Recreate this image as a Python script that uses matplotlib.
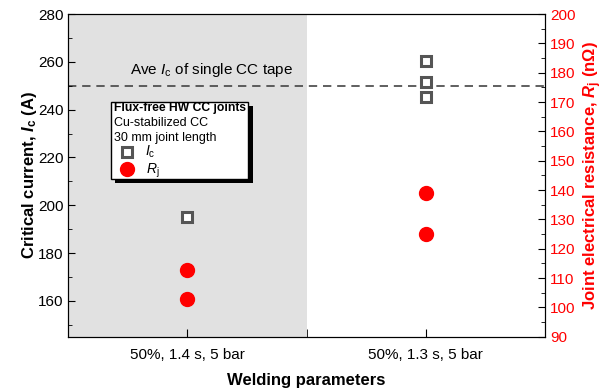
import matplotlib.pyplot as plt
from matplotlib.lines import Line2D
from matplotlib.patches import Rectangle
from matplotlib.ticker import MultipleLocator

plt.rcParams["font.family"] = ["Liberation Sans", "DejaVu Sans"]
plt.rcParams["mathtext.fontset"] = "custom"
plt.rcParams["mathtext.rm"] = "Liberation Sans"
plt.rcParams["mathtext.it"] = "Liberation Sans:italic"
plt.rcParams["mathtext.bf"] = "Liberation Sans:bold"
plt.rcParams["mathtext.bfit"] = "Liberation Sans:bold:italic"

categories = ["50%, 1.4 s, 5 bar", "50%, 1.3 s, 5 bar"]
ic_x = [0, 1, 1, 1]
ic_values = [195.0, 260.5, 251.4, 245.4]
rj_x = [0, 0, 1, 1]
rj_values = [112.8, 103.0, 138.9, 125.0]
ave_ic_tape = 250

GRAY = "#555555"
RED = "#ff0000"

fig = plt.figure(figsize=(6.11, 3.92), dpi=100)
ax = fig.add_axes([68.3 / 611, 1 - 336.7 / 392, 476.7 / 611, 322.7 / 392])
ax2 = ax.twinx()

ax.axvspan(-0.5, 0.5, color="#e1e1e1", lw=0, zorder=0)
ax.axhline(ave_ic_tape, color="#444444", lw=1.2, ls=(0, (5, 3.5)), zorder=1)
ax.text(0.1, ave_ic_tape + 6.5, "Ave $I_\\mathrm{c}$ of single CC tape",
        ha="center", va="center", fontsize=11)

ax.plot(ic_x, ic_values, "s", ms=7, mew=2.2, mec=GRAY, mfc="white", zorder=3)
ax2.plot(rj_x, rj_values, "o", ms=10, color=RED, zorder=3)

ax.set_xlim(-0.5, 1.5)
ax.set_ylim(145, 280)
ax2.set_ylim(90, 200)

ax.set_xticks([0, 1])
ax.set_xticklabels(categories, fontsize=11)
ax.xaxis.set_minor_locator(MultipleLocator(0.5))
ax.yaxis.set_major_locator(MultipleLocator(20))
ax.yaxis.set_minor_locator(MultipleLocator(10))
ax2.yaxis.set_major_locator(MultipleLocator(10))
ax2.yaxis.set_minor_locator(MultipleLocator(5))

ax.tick_params(axis="both", which="both", direction="in", labelsize=11)
ax.tick_params(axis="x", which="minor", length=6)
ax.tick_params(axis="x", which="major", length=6, pad=8)
ax.tick_params(axis="y", which="major", length=5)
ax.tick_params(axis="y", which="minor", length=3)
ax2.tick_params(axis="y", which="both", direction="in", labelsize=11,
                labelcolor=RED)
ax2.tick_params(axis="y", which="major", length=5)
ax2.tick_params(axis="y", which="minor", length=3)

ax.set_xlabel("Welding parameters", fontsize=12, fontweight="bold", labelpad=8)
ax.set_ylabel("Critical current, $\\mathbfit{I}_\\mathbf{c}$ (A)",
              fontsize=12, fontweight="bold", labelpad=-1)
ax2.set_ylabel("Joint electrical resistance, $\\mathbfit{R}_\\mathbf{j}$ (n\u03a9)",
               fontsize=12, fontweight="bold", color=RED, labelpad=4)

# legend box with shadow
bx, by, bw, bh = 0.089, 0.489, 0.288, 0.239
sdx, sdy = 4.5 / 476.7, 4.5 / 322.7
ax2.add_patch(Rectangle((bx + sdx, by - sdy), bw, bh, transform=ax2.transAxes,
                        facecolor="black", edgecolor="black", lw=0, zorder=5))
ax2.add_patch(Rectangle((bx, by), bw, bh, transform=ax2.transAxes,
                        facecolor="white", edgecolor="black", lw=1, zorder=6))
tx = 0.095
ax2.text(tx, 0.709, "Flux-free HW CC joints", transform=ax2.transAxes,
         fontsize=8.7, fontweight="bold", va="center", zorder=7)
ax2.text(tx, 0.662, "Cu-stabilized CC", transform=ax2.transAxes,
         fontsize=9, va="center", zorder=7)
ax2.text(tx, 0.616, "30 mm joint length", transform=ax2.transAxes,
         fontsize=9, va="center", zorder=7)
ax2.add_line(Line2D([0.123], [0.572], transform=ax2.transAxes, marker="s",
                    ms=7, mew=2.2, mec=GRAY, mfc="white", ls="none", zorder=7))
ax2.add_line(Line2D([0.123], [0.52], transform=ax2.transAxes, marker="o",
                    ms=10, color=RED, ls="none", zorder=7))
ax2.text(0.16, 0.572, "$I_\\mathrm{c}$", transform=ax2.transAxes,
         fontsize=10, va="center", zorder=7)
ax2.text(0.162, 0.515, "$R_\\mathrm{j}$", transform=ax2.transAxes,
         fontsize=10, va="center", zorder=7)

plt.savefig("out.png", dpi=100)
